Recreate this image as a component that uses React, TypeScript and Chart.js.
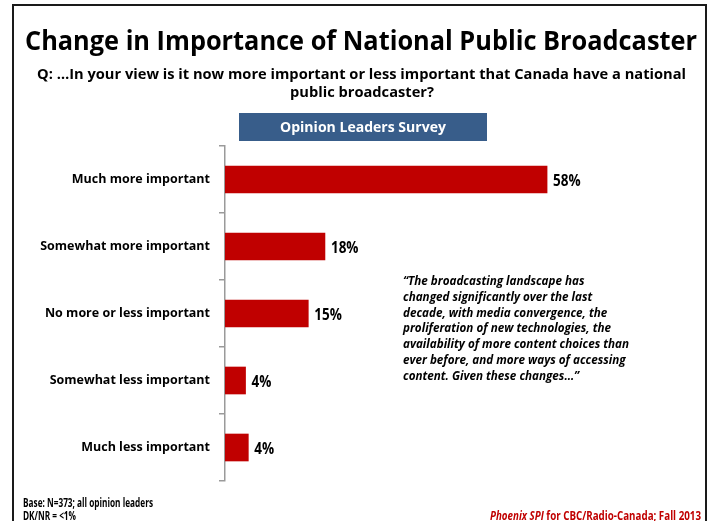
import React, { useEffect, useRef } from "react";
import { Chart, registerables } from "chart.js";

Chart.register(...registerables);

const categories = [
  "Much more important",
  "Somewhat more important",
  "No more or less important",
  "Somewhat less important",
  "Much less important",
];
const values = [58, 18, 15, 3.7, 4.2];

const titleText = "Change in Importance of National Public Broadcaster";
const subtitleLines = [
  "Q: \u2026In your view is it now more important or less important that Canada have a national",
  "public broadcaster?",
];
const boxLabel = "Opinion Leaders Survey";
const quoteLines = [
  "\u201CThe broadcasting landscape has",
  "changed significantly over the last",
  "decade, with media convergence, the",
  "proliferation of new technologies, the",
  "availability of more content choices than",
  "ever before, and more ways of accessing",
  "content. Given these changes\u2026\u201D",
];
const footerLeft = ["Base: N=373; all opinion leaders", "DK/NR = <1%"];
const footerRightItalic = "Phoenix SPI";
const footerRightRest = " for CBC/Radio-Canada; Fall 2013";

const FONT = "'Open Sans', Lato, sans-serif";
const BAR = "#C00000";

function drawScaled(
  ctx: CanvasRenderingContext2D,
  text: string,
  x: number,
  y: number,
  font: string,
  targetWidth: number,
  align: CanvasTextAlign
) {
  ctx.save();
  ctx.font = font;
  const w = ctx.measureText(text).width;
  const sx = targetWidth / w;
  ctx.translate(x, y);
  ctx.scale(sx, 1);
  ctx.textAlign = align;
  ctx.textBaseline = "alphabetic";
  ctx.fillText(text, 0, 0);
  ctx.restore();
}

const decorPlugin = {
  id: "decor",
  beforeDraw(chart: any) {
    const ctx = chart.ctx as CanvasRenderingContext2D;
    ctx.save();
    ctx.fillStyle = "#ffffff";
    ctx.fillRect(0, 0, chart.width, chart.height);
    ctx.restore();
  },
  afterDraw(chart: any) {
    const ctx = chart.ctx as CanvasRenderingContext2D;
    ctx.save();
    // frame
    ctx.strokeStyle = "#1a1a1a";
    ctx.lineWidth = 2;
    ctx.strokeRect(13, 5, 693, 540);

    // title
    ctx.fillStyle = "#000000";
    drawScaled(ctx, titleText, 361, 49.5, `bold 26px ${FONT}`, 672, "center");

    // subtitle
    const sFont = `bold 13.5px ${FONT}`;
    drawScaled(ctx, subtitleLines[0], 361.5, 79, sFont, 649, "center");
    {
      ctx.font = sFont;
      const w0 = ctx.measureText(subtitleLines[0]).width;
      const f = 649 / w0;
      const w1 = ctx.measureText(subtitleLines[1]).width * f;
      drawScaled(ctx, subtitleLines[1], 362, 97, sFont, w1, "center");
    }

    // box
    ctx.fillStyle = "#385D8A";
    ctx.fillRect(239, 113, 248, 28);
    ctx.fillStyle = "#ffffff";
    drawScaled(ctx, boxLabel, 363, 132, `bold 14px ${FONT}`, 166, "center");

    // quote
    ctx.fillStyle = "#000000";
    const qFont = `italic bold 11.5px ${FONT}`;
    ctx.font = qFont;
    const qf = 226 / ctx.measureText(quoteLines[4]).width;
    quoteLines.forEach((line, i) => {
      ctx.font = qFont;
      const w = ctx.measureText(line).width * qf;
      drawScaled(ctx, line, 403, 285 + i * 15.8, qFont, w, "left");
    });

    // footer left
    const fFont = `bold 11.5px ${FONT}`;
    ctx.font = fFont;
    const ff = 130 / ctx.measureText(footerLeft[0]).width;
    footerLeft.forEach((line, i) => {
      ctx.font = fFont;
      const w = ctx.measureText(line).width * ff;
      drawScaled(ctx, line, 23, 507 + i * 13, fFont, w, "left");
    });

    // footer right
    const fiFont = `italic bold 11.5px ${FONT}`;
    ctx.font = fiFont;
    const wi = ctx.measureText(footerRightItalic).width;
    ctx.font = fFont;
    const wr = ctx.measureText(footerRightRest).width;
    const rf = 211 / (wi + wr);
    ctx.fillStyle = "#C00000";
    drawScaled(ctx, footerRightRest, 701, 520, fFont, wr * rf, "right");
    drawScaled(ctx, footerRightItalic, 701 - wr * rf, 520, fiFont, wi * rf, "right");

    ctx.restore();
  },
  afterDatasetsDraw(chart: any) {
    const ctx = chart.ctx as CanvasRenderingContext2D;
    const meta = chart.getDatasetMeta(0);
    ctx.save();
    ctx.fillStyle = "#000000";
    const dFont = `bold 15.5px ${FONT}`;
    meta.data.forEach((bar: any, i: number) => {
      const label = `${Math.round(values[i])}%`;
      ctx.font = dFont;
      const w = ctx.measureText(label).width * 0.87;
      drawScaled(ctx, label, bar.x + 6, bar.y + 6.5, dFont, w, "left");
    });
    ctx.restore();
  },
};

export default function App() {
  const ref = useRef<HTMLCanvasElement | null>(null);
  useEffect(() => {
    if (!ref.current) return;
    const chart = new Chart(ref.current, {
      type: "bar",
      data: {
        labels: categories,
        datasets: [
          {
            data: values,
            backgroundColor: BAR,
            borderWidth: 0,
            barThickness: 27,
          },
        ],
      },
      options: {
        indexAxis: "y",
        animation: false,
        responsive: false,
        devicePixelRatio: 1,
        layout: { padding: { top: 146, bottom: 40, left: 0, right: 29 } },
        plugins: { legend: { display: false }, tooltip: { enabled: false } },
        scales: {
          x: { display: false, min: 0, max: 85 },
          y: {
            offset: true,
            afterFit(scale: any) {
              scale.width = 225;
            },
            grid: {
              display: true,
              drawOnChartArea: false,
              drawTicks: true,
              tickLength: 6,
              color: "#9a9a9a",
              lineWidth: 1.5,
              offset: true,
            },
            border: { display: true, color: "#9a9a9a", width: 1.5 },
            ticks: {
              color: "#000000",
              padding: 9,
              font: { family: FONT, weight: "bold", size: 12.5 },
            },
          },
        },
      },
      plugins: [decorPlugin],
    });
    return () => chart.destroy();
  }, []);
  return (
    <canvas
      ref={ref}
      width={726}
      height={521}
      style={{ position: "fixed", left: 0, top: 0, width: 726, height: 521 }}
    />
  );
}
